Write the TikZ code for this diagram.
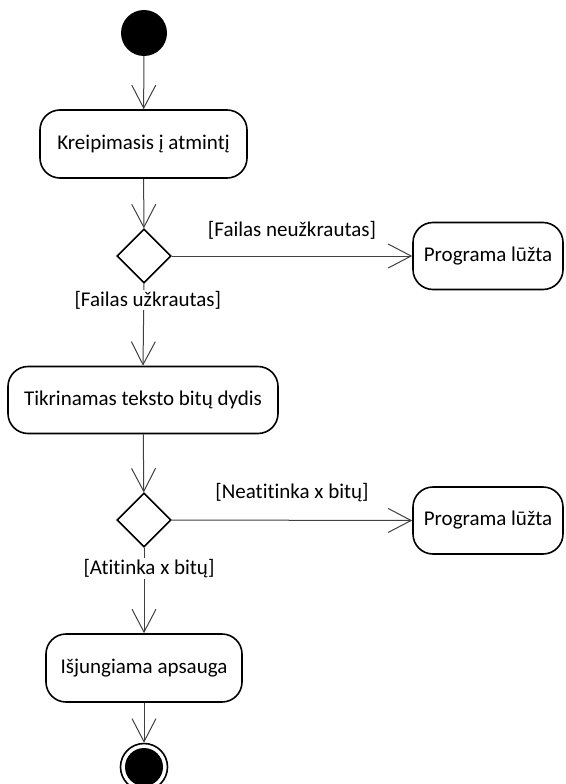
\documentclass[tikz,border=0pt]{standalone}
\usepackage{fontspec}
\setmainfont{Carlito}[RawFeature=-liga]
\usetikzlibrary{shapes.geometric,arrows.meta}
\tikzset{
  action/.style={draw=black, line width=1.6pt, rounded corners=20pt, fill=white,
    inner sep=0pt, align=center, font=\fontsize{21}{24}\selectfont},
  decision/.style={draw=black, line width=1.6pt, diamond, aspect=1, fill=white,
    inner sep=0pt, minimum width=54pt, minimum height=54pt},
  flow/.style={draw=black!75, line width=1pt,
    -{Straight Barb[length=23pt,width=24pt,line width=1pt]}},
  guard/.style={font=\fontsize{21}{24}\selectfont, inner sep=1pt}
}
\begin{document}
\begin{tikzpicture}[x=1pt,y=-1pt]
  \useasboundingbox (0,0) rectangle (565,784);

  % initial and final states
  \node (start) [circle, fill=black, minimum size=46pt, inner sep=0pt] at (144,33) {};
  \node (stop) [circle, draw=black, line width=1.6pt, minimum size=47pt, inner sep=0pt] at (144,767) {};
  \node (stopdot) [circle, fill=black, minimum size=38pt, inner sep=0pt] at (stop.center) {};

  % actions
  \node (read) [action, minimum width=207pt, minimum height=68pt] at (143.5,144) {Kreipimasis į atmintį};
  \node (check) [action, minimum width=270pt, minimum height=67pt] at (143,400) {Tikrinamas teksto bitų dydis};
  \node (off) [action, minimum width=196pt, minimum height=68pt] at (144,668) {Išjungiama apsauga};
  \node (crashA) [action, minimum width=150pt, minimum height=67pt] at (488,256) {Programa lūžta};
  \node (crashB) [action, minimum width=150pt, minimum height=67pt] at (488,520.5) {Programa lūžta};

  % decisions
  \node (loaded) [decision] at (144,256) {};
  \node (bits) [decision] at (144,520) {};

  % control flow
  \draw[flow] (start) -- (read);
  \draw[flow] (read) -- (loaded);
  \draw[flow] (loaded.east) -- node[guard, midway, yshift=26pt] {[Failas neužkrautas]} (crashA.west);
  \draw[flow] (loaded.south) -- node[guard, pos=0.2, fill=white, xshift=4pt] {[Failas užkrautas]} (check.north);
  \draw[flow] (check) -- (bits);
  \draw[flow] (bits.east) -- node[guard, midway, yshift=28pt] {[Neatitinka x bitų]} (crashB.west);
  \draw[flow] (bits.south) -- node[guard, pos=0.24, fill=white, xshift=5pt] {[Atitinka x bitų]} (off.north);
  \draw[flow] (off) -- (stop);
\end{tikzpicture}
\end{document}
